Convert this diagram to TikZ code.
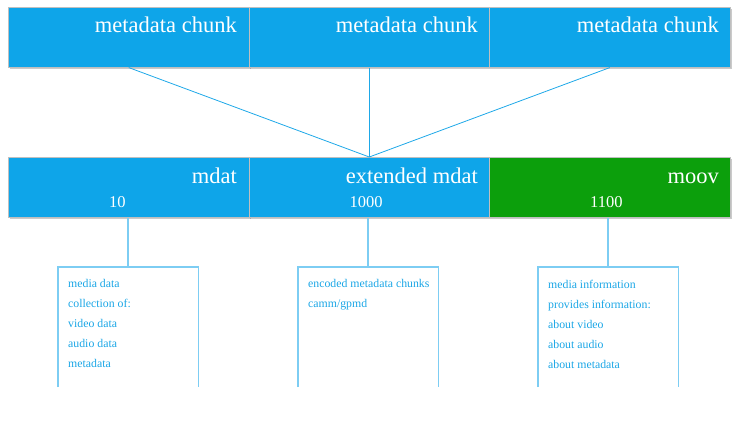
\documentclass[tikz,border=0pt]{standalone}
\usepackage{fontspec}
\setmainfont{Liberation Serif}
\usetikzlibrary{shadows}
\definecolor{boxblue}{RGB}{14,165,233}
\definecolor{boxgreen}{RGB}{12,159,12}
\definecolor{linkblue}{RGB}{30,168,232}
\definecolor{infoline}{RGB}{125,205,243}
\definecolor{infotext}{RGB}{26,166,230}
\tikzset{
  x=1pt, y=-1pt,
  chunk/.style={rectangle, fill=boxblue, draw=black!25, line width=0.6pt,
    minimum width=241pt, minimum height=60pt, inner sep=0pt, anchor=north west,
    drop shadow={shadow xshift=1.2pt, shadow yshift=-1.5pt, opacity=0.35, fill=black!60}},
  title/.style={text=white, font=\fontsize{22.5}{24}\selectfont, anchor=base east, inner sep=0pt},
  num/.style={text=white, font=\fontsize{16.5}{18}\selectfont, anchor=base west, inner sep=0pt},
  link/.style={draw=linkblue, line width=0.8pt},
  stem/.style={draw=infoline, line width=1.8pt},
  infobox/.style={rectangle, minimum width=140pt, minimum height=120pt, inner sep=0pt, anchor=north west},
  infoframe/.style={draw=infoline, line width=1.8pt},
  infotxt/.style={text=infotext, font=\fontsize{11.8}{20}\selectfont, anchor=north west,
    inner sep=0pt, align=left, text depth=0pt},
}
\begin{document}
\begin{tikzpicture}
\useasboundingbox (0,0) rectangle (742,431);
% top row
\node[chunk] (t1) at (8,7) {};
\node[chunk] (t2) at (248.5,7) {};
\node[chunk] (t3) at (489,7) {};
\node[title] (t1l) at (237,32) {metadata chunk};
\node[title] (t2l) at (478,32) {metadata chunk};
\node[title] (t3l) at (719,32) {metadata chunk};
% bottom row
\node[chunk] (b1) at (8,157) {};
\node[chunk] (b2) at (248.5,157) {};
\node[chunk, fill=boxgreen] (b3) at (489,157) {};
\node[title] (b1l) at (237,183) {mdat};
\node[title] (b2l) at (478,183) {extended mdat};
\node[title] (b3l) at (719,183) {moov};
\node[num] (b1n) at (109,207) {10};
\node[num] (b2n) at (349.5,207) {1000};
\node[num] (b3n) at (590,207) {1100};
% connectors top
\draw[link] (t1.south) -- (b2.north);
\draw[link] (t2.south) -- (b2.north);
\draw[link] (t3.south) -- (b2.north);
% info boxes
\node[infobox] (i1) at (58,266.7) {};
\node[infobox] (i2) at (298,266.7) {};
\node[infobox] (i3) at (538,266.7) {};
\foreach \i in {i1,i2,i3}{
  \draw[infoframe] (\i.south west) -- (\i.north west) -- (\i.north east) -- (\i.south east);
}
\draw[stem] (b1.south -| i1.north) -- (i1.north);
\draw[stem] (b2.south -| i2.north) -- (i2.north);
\draw[stem] (b3.south -| i3.north) -- (i3.north);
\node[infotxt] (i1t) at (68,279.5) {media data\\collection of:\\video data\\audio data\\metadata};
\node[infotxt] (i2t) at (308,279.5) {encoded metadata chunks\\camm/gpmd};
\node[infotxt] (i3t) at (548,279.5) {media information\\provides information:\\about video\\about audio\\about metadata};
\end{tikzpicture}
\end{document}
